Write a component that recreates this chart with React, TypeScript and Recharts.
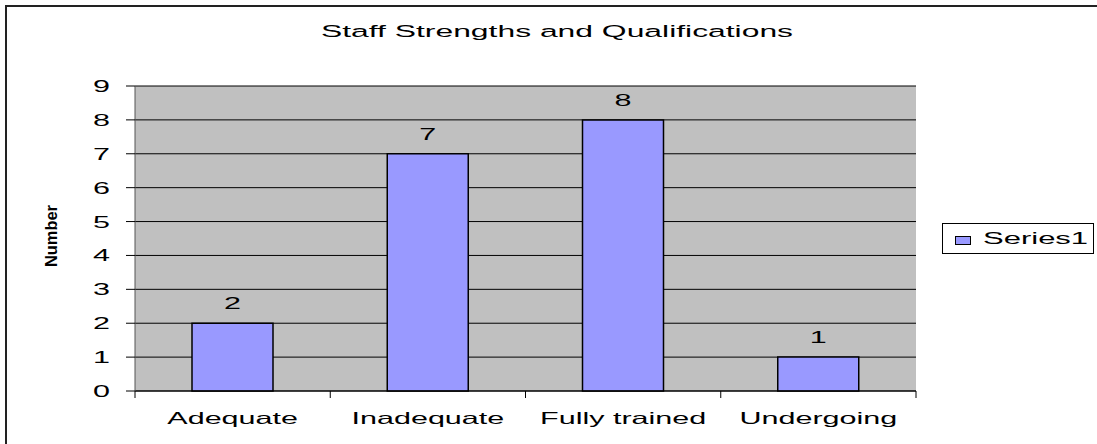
import React from "react";
import {Bar, BarChart, CartesianGrid, LabelList, Legend, XAxis, YAxis} from "recharts";

const categories = ["Adequate", "Inadequate", "Fully trained", "Undergoing"];
const series1 = [2, 7, 8, 1];
const yTicks = [0, 1, 2, 3, 4, 5, 6, 7, 8, 9];
const seriesName = "Series1";
const chartTitle = "Staff Strengths and Qualifications";
const yAxisTitle = "Number";

const data = categories.map((name, i) => ({name, series1: series1[i]}));

const W = 1097;
const H = 444;
const PLOT_LEFT = 135;
const PLOT_RIGHT = 916;
const PLOT_TOP = 86;
const PLOT_BOTTOM = 391;
const BAND = (PLOT_RIGHT - PLOT_LEFT) / categories.length;
const STRETCH = 1.85;
const FONT = "'Liberation Sans', Arial, sans-serif";
const FS = 16.5;
const BAR_FILL = "#9999FF";

// the source picture is stretched sideways, so text gets the same squeeze
function StretchText({x, y, anchor, children, sx = STRETCH}: {x: number; y: number; anchor: string; children: any; sx?: number}) {
  return (
    <text
      transform={`translate(${x},${y}) scale(${sx},1)`}
      textAnchor={anchor as any}
      fontFamily={FONT}
      fontSize={FS}
      fill="#000"
    >
      {children}
    </text>
  );
}

function YTick(props: any) {
  const {x, y, payload} = props;
  return <StretchText x={x} y={y + 6} anchor="end">{payload.value}</StretchText>;
}

function XTick(props: any) {
  const {x, y, payload, index} = props;
  const last = index === categories.length - 1;
  return (
    <g>
      <line x1={x - BAND / 2} x2={x - BAND / 2} y1={y} y2={y + 7} stroke="#000" />
      {last && <line x1={x + BAND / 2} x2={x + BAND / 2} y1={y} y2={y + 7} stroke="#000" />}
      <StretchText x={x} y={y + 33} anchor="middle">{payload.value}</StretchText>
    </g>
  );
}

function BarValue(props: any) {
  const {x, y, width, value} = props;
  return <StretchText x={x + width / 2} y={y - 14} anchor="middle">{value}</StretchText>;
}

function LegendBox() {
  return (
    <svg width={153} height={31} style={{display: "block"}}>
      <rect x={0.5} y={0.5} width={151} height={30} fill="#fff" stroke="#000" />
      <rect x={13.5} y={13.5} width={15} height={8} fill={BAR_FILL} stroke="#000" />
      <StretchText x={41} y={20.5} anchor="start" sx={1.88}>{seriesName}</StretchText>
    </svg>
  );
}

export default function App() {
  return (
    <div style={{position: "fixed", left: 0, top: 0, width: W, height: H, background: "#fff", overflow: "hidden"}}>
      <div
        style={{
          position: "absolute",
          left: 5,
          top: 5,
          width: W,
          height: H,
          borderTop: "2px solid #222",
          borderLeft: "2px solid #222",
        }}
      />
      <div style={{position: "absolute", left: 0, top: 0}}>
        <BarChart
          width={W}
          height={H}
          data={data}
          margin={{top: PLOT_TOP, right: W - PLOT_RIGHT, bottom: H - PLOT_BOTTOM - 30, left: PLOT_LEFT - 60}}
        >
          <CartesianGrid vertical={false} stroke="#000" fill="#C0C0C0" fillOpacity={1} />
          <XAxis
            dataKey="name"
            height={30}
            tickLine={false}
            tickSize={0}
            tickMargin={0}
            axisLine={{stroke: "#000"}}
            tick={<XTick />}
            interval={0}
          />
          <YAxis
            width={60}
            domain={[0, 9]}
            ticks={yTicks}
            interval={0}
            tickSize={9}
            tickMargin={16}
            tickLine={{stroke: "#000"}}
            axisLine={{stroke: "#555"}}
            tick={<YTick />}
          />
          <YAxis yAxisId="right" orientation="right" width={0} tick={false} tickLine={false} axisLine={{stroke: "#808080"}} />
          <Legend
            layout="vertical"
            align="center"
            verticalAlign="middle"
            wrapperStyle={{left: 942, top: 223, width: 153, height: 31}}
            content={() => <LegendBox />}
          />
          <Bar
            dataKey="series1"
            name={seriesName}
            fill={BAR_FILL}
            stroke="#000"
            strokeWidth={1.5}
            barSize={81}
            isAnimationActive={false}
          >
            <LabelList dataKey="series1" content={<BarValue />} />
          </Bar>
        </BarChart>
      </div>
      <svg width={W} height={H} style={{position: "absolute", left: 0, top: 0, pointerEvents: "none"}}>
        <StretchText x={557} y={36.5} anchor="middle" sx={1.93}>{chartTitle}</StretchText>
        <text
          transform={`translate(57,236) scale(1.5,1) rotate(-90)`}
          textAnchor="middle"
          fontFamily={FONT}
          fontSize={11}
          fontWeight="bold"
          textLength={62}
          lengthAdjust="spacingAndGlyphs"
          fill="#000"
        >
          {yAxisTitle}
        </text>
      </svg>
    </div>
  );
}
